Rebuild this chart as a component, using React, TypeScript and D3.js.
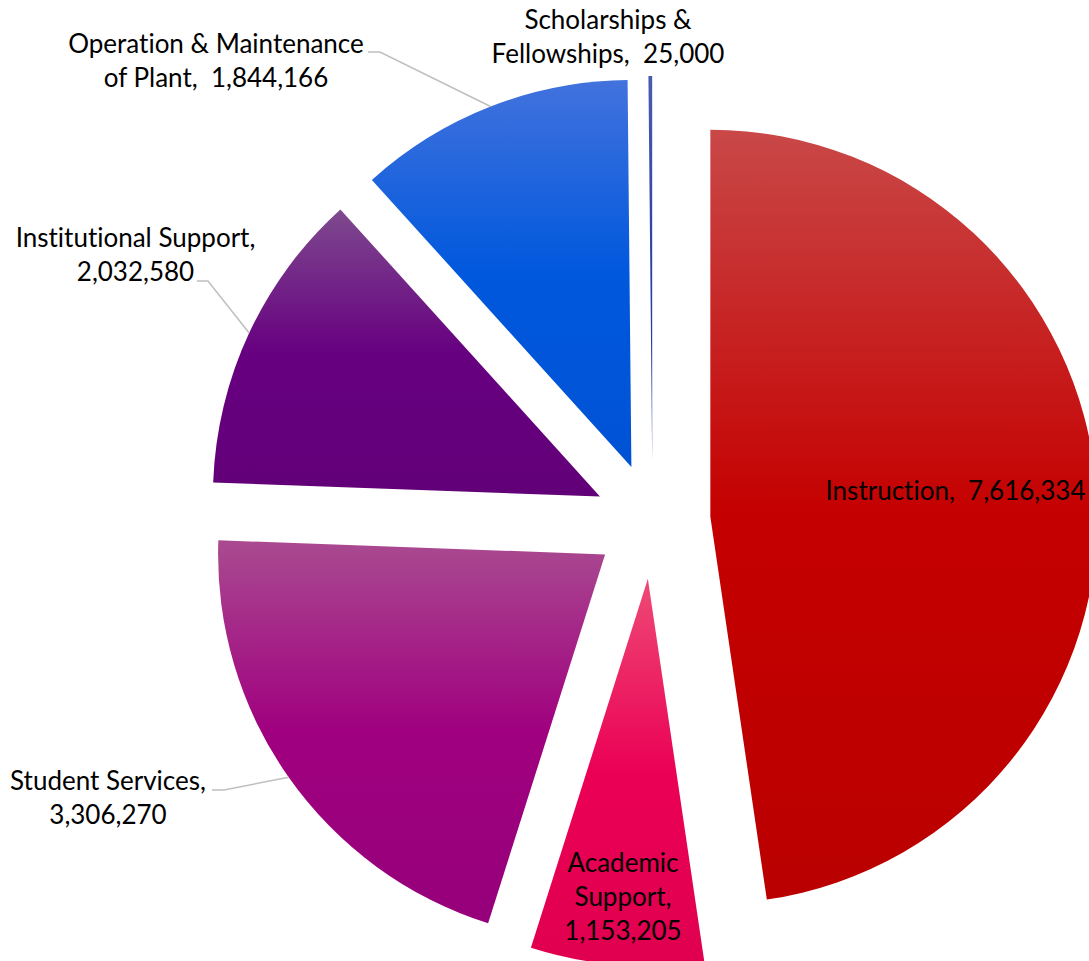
import React from 'react';
import * as d3 from 'd3';

// ---- data ----
const categories = [
  'Instruction',
  'Academic Support',
  'Student Services',
  'Institutional Support',
  'Operation & Maintenance of Plant',
  'Scholarships & Fellowships',
];
const values = [7616334, 1153205, 3306270, 2032580, 1844166, 25000];
const baseColors = ['#C50000', '#EB0055', '#A0007F', '#670080', '#0058DD', '#2B3FA2'];
const topColors = ['#C94848', '#EE4A76', '#A94A90', '#7E4A8E', '#4272DD', '#4A5CB0'];
const bottomColors = ['#BA0000', '#E0004F', '#96007A', '#620078', '#0052D4', '#27399A'];

// label text lines for each slice (category text split as in the picture)
const labelLines = [
  ['Instruction,  {v}'],
  ['Academic', 'Support,', '{v}'],
  ['Student Services,', '{v}'],
  ['Institutional Support,', '{v}'],
  ['Operation & Maintenance', 'of Plant,  {v}'],
  ['Scholarships &', 'Fellowships,  {v}'],
];

const W = 1089;
const H = 961;

export default function App() {
  const cx = 652.5;
  const cy = 521;
  const R = 387;
  const explode = 58;
  const fmt = d3.format(',');

  const pie = d3.pie<number>().sort(null).value((d) => d);
  const arcs = pie(values);
  const arcGen = d3.arc<d3.PieArcDatum<number>>().innerRadius(0).outerRadius(R);

  // label layout: anchor x, first baseline, and elbow for leader lines
  const layout: { x: number; y: number; lead?: [number, number][] }[] = [
    { x: 955.5, y: 500 },
    { x: 623, y: 872 },
    { x: 108, y: 790, lead: [[212, 790], [224, 790]] },
    { x: 135.5, y: 247, lead: [[197, 281], [208, 281]] },
    { x: 216, y: 53, lead: [[368, 52], [380, 52]] },
    { x: 608, y: 29 },
  ];
  const lineH = 34;

  return (
    <svg
      width={W}
      height={H}
      style={{ position: 'absolute', left: 0, top: 0, background: '#fff' }}
      fontFamily="Lato, 'Open Sans', sans-serif"
    >
      <defs>
        {arcs.map((a, i) => (
          <linearGradient key={i} id={`g${i}`} x1="0" y1="0" x2="0" y2="1">
            <stop offset="0" stopColor={topColors[i]} />
            <stop offset="0.5" stopColor={baseColors[i]} />
            <stop offset="1" stopColor={bottomColors[i]} />
          </linearGradient>
        ))}
      </defs>
      {arcs.map((a, i) => {
        const mid = (a.startAngle + a.endAngle) / 2;
        const ox = cx + explode * Math.sin(mid);
        const oy = cy - explode * Math.cos(mid);
        return (
          <path
            key={categories[i]}
            d={arcGen(a) || ''}
            transform={`translate(${ox},${oy})`}
            fill={`url(#g${i})`}
          />
        );
      })}
      {arcs.map((a, i) => {
        const L = layout[i];
        if (!L.lead) return null;
        const mid = (a.startAngle + a.endAngle) / 2;
        const ox = cx + explode * Math.sin(mid);
        const oy = cy - explode * Math.cos(mid);
        const ex = ox + R * Math.sin(mid);
        const ey = oy - R * Math.cos(mid);
        const pts = [...L.lead, [ex, ey]] as [number, number][];
        return (
          <path
            key={'l' + i}
            d={d3.line()(pts) || ''}
            fill="none"
            stroke="#BFBFBF"
            strokeWidth={1.5}
          />
        );
      })}
      {arcs.map((a, i) => {
        const L = layout[i];
        return (
          <text
            key={'t' + i}
            x={L.x}
            y={L.y}
            textAnchor="middle"
            fontSize={26}
            fill="#000"
            style={{
              whiteSpace: 'pre',
              fontVariantLigatures: 'none',
              fontFeatureSettings: '"liga" 0, "clig" 0',
            }}
          >
            {labelLines[i].map((ln, j) => (
              <tspan key={j} x={L.x} y={L.y + j * lineH}>
                {ln.replace('{v}', fmt(values[i]))}
              </tspan>
            ))}
          </text>
        );
      })}
    </svg>
  );
}
